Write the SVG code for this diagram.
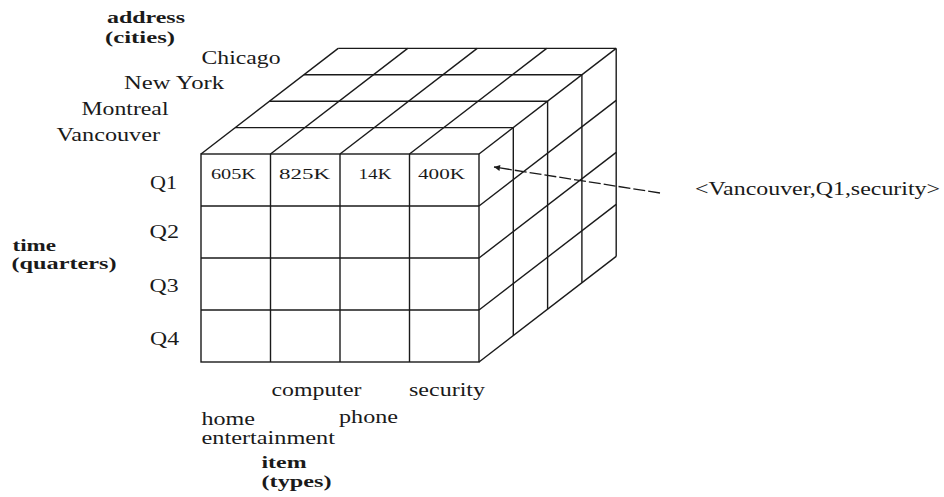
<svg xmlns="http://www.w3.org/2000/svg" width="944" height="497" viewBox="0 0 944 497">
  <style>
    .grid line, .grid rect { stroke: #1a1a1a; stroke-width: 1.4; fill: none; }
    .lbl { font-family: "Liberation Serif", "Times New Roman", serif; font-size: 19px; fill: #1a1a1a; }
    .dim { font-family: "Liberation Serif", "Times New Roman", serif; font-size: 16px; font-weight: bold; fill: #1a1a1a; }
    .val { font-family: "Liberation Serif", "Times New Roman", serif; font-size: 15px; fill: #1a1a1a; }
    .conn { stroke: #1a1a1a; stroke-width: 1.3; fill: none; stroke-dasharray: 12 3; }
  </style>
  <defs>
    <marker id="arrowhead" viewBox="0 0 10 10" refX="10" refY="5" markerWidth="10" markerHeight="6" orient="auto" markerUnits="userSpaceOnUse">
      <path d="M0,0 L10,5 L0,10 Z" fill="#1a1a1a"/>
    </marker>
  </defs>

  <rect width="944" height="497" fill="#ffffff"/>

  <!-- data cube: front face, top face and right face -->
  <g id="cube" class="grid">
    <g id="front-face">
      <rect x="201" y="154" width="278" height="208"/>
      <line x1="201" y1="206" x2="479" y2="206"/>
      <line x1="201" y1="258" x2="479" y2="258"/>
      <line x1="201" y1="310" x2="479" y2="310"/>
      <line x1="270.5" y1="154" x2="270.5" y2="362"/>
      <line x1="340" y1="154" x2="340" y2="362"/>
      <line x1="409.5" y1="154" x2="409.5" y2="362"/>
    </g>
    <g id="top-face">
      <line x1="235.3" y1="127.6" x2="513.3" y2="127.6"/>
      <line x1="269.6" y1="101.2" x2="547.6" y2="101.2"/>
      <line x1="303.9" y1="74.8" x2="581.9" y2="74.8"/>
      <line x1="338.2" y1="48.4" x2="616.2" y2="48.4"/>
      <line x1="201" y1="154" x2="338.2" y2="48.4"/>
      <line x1="270.5" y1="154" x2="407.7" y2="48.4"/>
      <line x1="340" y1="154" x2="477.2" y2="48.4"/>
      <line x1="409.5" y1="154" x2="546.7" y2="48.4"/>
      <line x1="479" y1="154" x2="616.2" y2="48.4"/>
    </g>
    <g id="right-face">
      <line x1="513.3" y1="127.6" x2="513.3" y2="335.6"/>
      <line x1="547.6" y1="101.2" x2="547.6" y2="309.2"/>
      <line x1="581.9" y1="74.8" x2="581.9" y2="282.8"/>
      <line x1="616.2" y1="48.4" x2="616.2" y2="256.4"/>
      <line x1="479" y1="206" x2="616.2" y2="100.4"/>
      <line x1="479" y1="258" x2="616.2" y2="152.4"/>
      <line x1="479" y1="310" x2="616.2" y2="204.4"/>
      <line x1="479" y1="362" x2="616.2" y2="256.4"/>
    </g>
  </g>

  <!-- cell values of the Q1 row -->
  <g id="cells">
    <text class="val" x="211" y="178.5" textLength="45" lengthAdjust="spacingAndGlyphs">605K</text>
    <text class="val" x="279" y="178.5" textLength="51" lengthAdjust="spacingAndGlyphs">825K</text>
    <text class="val" x="358.5" y="178.5" textLength="33" lengthAdjust="spacingAndGlyphs">14K</text>
    <text class="val" x="418" y="178.5" textLength="47" lengthAdjust="spacingAndGlyphs">400K</text>
  </g>

  <!-- address dimension -->
  <g id="address-axis">
    <text class="dim" x="107" y="23" textLength="78" lengthAdjust="spacingAndGlyphs">address</text>
    <text class="dim" x="105" y="43" textLength="70" lengthAdjust="spacingAndGlyphs">(cities)</text>
    <text class="lbl" x="201.5" y="63.5" textLength="79" lengthAdjust="spacingAndGlyphs">Chicago</text>
    <text class="lbl" x="124" y="88.5" textLength="100" lengthAdjust="spacingAndGlyphs">New York</text>
    <text class="lbl" x="81.5" y="115" textLength="87" lengthAdjust="spacingAndGlyphs">Montreal</text>
    <text class="lbl" x="56.5" y="140.5" textLength="103.5" lengthAdjust="spacingAndGlyphs">Vancouver</text>
  </g>

  <!-- time dimension -->
  <g id="time-axis">
    <text class="dim" x="12.5" y="250.5" textLength="43.5" lengthAdjust="spacingAndGlyphs">time</text>
    <text class="dim" x="11.5" y="268.5" textLength="105" lengthAdjust="spacingAndGlyphs">(quarters)</text>
    <text class="lbl" x="150" y="189" textLength="27" lengthAdjust="spacingAndGlyphs">Q1</text>
    <text class="lbl" x="149.5" y="238" textLength="29.5" lengthAdjust="spacingAndGlyphs">Q2</text>
    <text class="lbl" x="149.5" y="291.5" textLength="29" lengthAdjust="spacingAndGlyphs">Q3</text>
    <text class="lbl" x="150" y="345" textLength="29" lengthAdjust="spacingAndGlyphs">Q4</text>
  </g>

  <!-- item dimension -->
  <g id="item-axis">
    <text class="lbl" x="271.5" y="396" textLength="90" lengthAdjust="spacingAndGlyphs">computer</text>
    <text class="lbl" x="409" y="396" textLength="76" lengthAdjust="spacingAndGlyphs">security</text>
    <text class="lbl" x="339" y="422.5" textLength="59" lengthAdjust="spacingAndGlyphs">phone</text>
    <text class="lbl" x="201.5" y="425" textLength="53.5" lengthAdjust="spacingAndGlyphs">home</text>
    <text class="lbl" x="201.5" y="444" textLength="133.5" lengthAdjust="spacingAndGlyphs">entertainment</text>
    <text class="dim" x="261.5" y="467.5" textLength="45" lengthAdjust="spacingAndGlyphs">item</text>
    <text class="dim" x="261.5" y="487" textLength="70" lengthAdjust="spacingAndGlyphs">(types)</text>
  </g>

  <!-- annotation naming the highlighted cell -->
  <g id="cell-label">
    <text class="lbl" x="695" y="195" textLength="245" lengthAdjust="spacingAndGlyphs" style="font-size:18px">&lt;Vancouver,Q1,security&gt;</text>
  </g>

  <g id="connectors">
    <line class="conn" x1="660" y1="193" x2="494" y2="167" marker-end="url(#arrowhead)"/>
  </g>
</svg>
